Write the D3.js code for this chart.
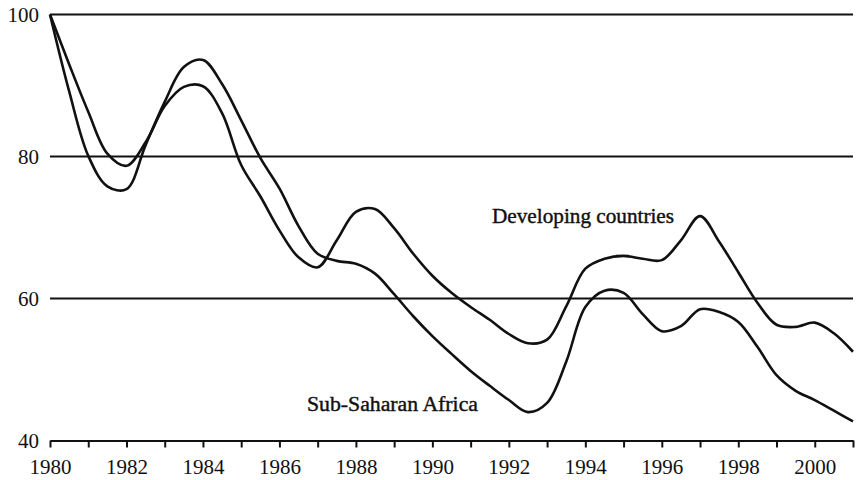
<!DOCTYPE html>
<html>
<head>
<meta charset="utf-8">
<script src="https://cdn.jsdelivr.net/npm/d3@7"></script>
<style>
  html, body { margin: 0; padding: 0; background: #fff; }
  svg { display: block; }
  text { font-family: "Liberation Serif", "Times New Roman", serif; fill: #111; }
</style>
</head>
<body>
<svg id="chart" width="858" height="480"></svg>
<script>
// Index, 1980 = 100, every half year
let periods = [
  1980, 1980.5, 1981, 1981.5, 1982, 1982.5, 1983, 1983.5, 1984, 1984.5,
  1985, 1985.5, 1986, 1986.5, 1987, 1987.5, 1988, 1988.5, 1989, 1989.5,
  1990, 1990.5, 1991, 1991.5, 1992, 1992.5, 1993, 1993.5, 1994, 1994.5,
  1995, 1995.5, 1996, 1996.5, 1997, 1997.5, 1998, 1998.5, 1999, 1999.5,
  2000, 2000.5, 2001
];

let developing = [
  100, 93.0, 86.3, 80.4, 78.7, 82.0, 87.1, 89.8, 89.9, 86.1,
  78.8, 74.4, 69.6, 65.8, 64.4, 68.2, 72.2, 72.6, 69.9, 66.3,
  63.2, 60.8, 58.8, 57.0, 55.0, 53.7, 54.2, 58.9, 64.2, 65.6,
  66.0, 65.6, 65.4, 68.2, 71.6, 68.0, 63.7, 59.4, 56.3, 56.0,
  56.6, 55.1, 52.5
];

let subSaharan = [
  100, 89.2, 80.1, 75.8, 75.4, 81.6, 87.7, 92.6, 93.6, 90.2,
  85.1, 79.8, 75.5, 70.2, 66.3, 65.3, 64.9, 63.5, 60.6, 57.5,
  54.7, 52.2, 49.8, 47.7, 45.7, 44.0, 45.3, 51.1, 58.8, 61.1,
  60.8, 57.8, 55.4, 56.1, 58.5, 58.1, 56.7, 53.2, 49.2, 47.0,
  45.7, 44.2, 42.7
];

let yTicks = [40, 60, 80, 100];
let gridValues = [60, 80, 100];
let xLabelYears = [1980, 1982, 1984, 1986, 1988, 1990, 1992, 1994, 1996, 1998, 2000];

let series = [
  { name: 'Developing countries', values: developing, label: { year: 1991.56, value: 70.6, length: 182 } },
  { name: 'Sub-Saharan Africa', values: subSaharan, label: { year: 1986.72, value: 44.2, length: 171 } }
];

let svg = d3.select('#chart');

let x = d3.scaleLinear().domain([1980, 2001]).range([50, 853]);
let y = d3.scaleLinear().domain([40, 100]).range([440.5, 14.5]);

// Horizontal rules at 60, 80 and 100
svg.append('g')
  .selectAll('line')
  .data(gridValues)
  .join('line')
  .attr('x1', x(1980))
  .attr('x2', x(2001))
  .attr('y1', d => y(d))
  .attr('y2', d => y(d))
  .attr('stroke', '#111')
  .attr('stroke-width', 2.2);

// Bottom axis: a tick every year, a label every other year
let xAxis = d3.axisBottom(x)
  .tickValues(d3.range(1980, 2002))
  .tickSize(7)
  .tickSizeOuter(0)
  .tickFormat(d => xLabelYears.includes(d) ? d : '');

let gx = svg.append('g')
  .attr('transform', 'translate(0,' + y(40) + ')')
  .call(xAxis);
gx.select('.domain').attr('stroke', '#111').attr('stroke-width', 2.2);
gx.selectAll('.tick line').attr('stroke', '#111').attr('stroke-width', 2);
gx.selectAll('.tick text')
  .attr('y', 19)
  .attr('dy', '0.71em')
  .style('font-size', '21px')
  .style('font-family', '"Liberation Serif", serif')
  .attr('fill', '#111');

// Left labels only, no axis line
let yAxis = d3.axisLeft(y)
  .tickValues(yTicks)
  .tickSize(0)
  .tickPadding(11);

let gy = svg.append('g')
  .attr('transform', 'translate(' + x(1980) + ',0)')
  .call(yAxis);
gy.select('.domain').remove();
gy.selectAll('.tick text')
  .style('font-size', '21px')
  .style('font-family', '"Liberation Serif", serif')
  .attr('fill', '#111');

let line = d3.line()
  .x((d, i) => x(periods[i]))
  .y(d => y(d))
  .curve(d3.curveCatmullRom.alpha(0.5));

svg.append('g')
  .selectAll('path')
  .data(series)
  .join('path')
  .attr('d', d => line(d.values))
  .attr('fill', 'none')
  .attr('stroke', '#111')
  .attr('stroke-width', 2.6)
  .attr('stroke-linejoin', 'round');

// Series names written next to the lines
svg.append('g')
  .selectAll('text')
  .data(series)
  .join('text')
  .attr('x', d => x(d.label.year))
  .attr('y', d => y(d.label.value))
  .attr('textLength', d => d.label.length)
  .attr('lengthAdjust', 'spacingAndGlyphs')
  .attr('stroke', '#111')
  .attr('stroke-width', 0.4)
  .style('font-size', '20px')
  .text(d => d.name);
</script>
</body>
</html>
